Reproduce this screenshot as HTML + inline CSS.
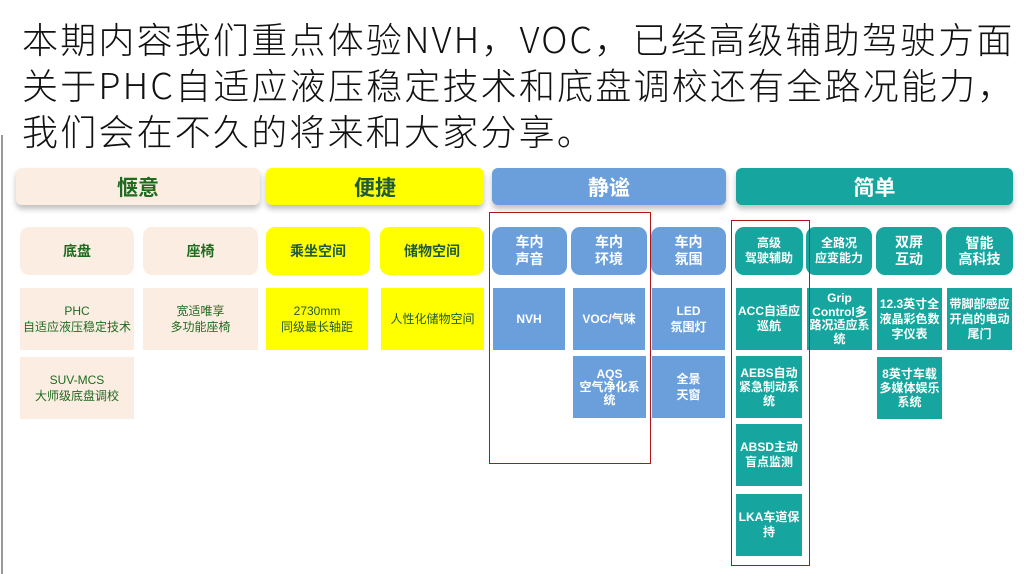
<!DOCTYPE html>
<html><head><meta charset="utf-8"><style>
body{margin:0;width:1024px;height:574px;background:#fff;position:relative;overflow:hidden;font-family:"Liberation Sans","Noto Sans CJK SC",sans-serif}
.t{position:absolute;left:22px;font-family:"Noto Sans CJK SC",sans-serif;font-size:36px;font-weight:300;color:#111;white-space:nowrap;line-height:46px;letter-spacing:2.2px}
.b{position:absolute;display:flex;align-items:center;justify-content:center;text-align:center;box-sizing:border-box}
.h{font-size:21px;font-weight:bold;border-radius:6px;box-shadow:0 4px 6px rgba(0,0,0,.25)}
.c{font-size:14px;font-weight:bold;border-radius:9px;line-height:17px}
.d{font-size:12px;line-height:16px;font-weight:bold}
.pe{background:#fcede3;color:#1f6b1f}
.ye{background:#ffff00;color:#1f5a3a}
.bl{background:#6a9fdc;color:#fff}
.te{background:#17a59f;color:#fff}
.r{position:absolute;border:1.5px solid #b0151a}
</style></head><body>
<div style="position:absolute;left:1px;top:135px;width:2px;height:439px;background:#999"></div>
<div class="t" style="top:15px">本期内容我们重点体验NVH，VOC，已经高级辅助驾驶方面</div>
<div class="t" style="top:61px">关于PHC自适应液压稳定技术和底盘调校还有全路况能力，</div>
<div class="t" style="top:107px">我们会在不久的将来和大家分享。</div>

<div class="b h pe" style="left:16px;top:168px;width:244px;height:37px">惬意</div>
<div class="b h ye" style="left:266px;top:168px;width:218px;height:37px">便捷</div>
<div class="b h bl" style="left:492px;top:168px;width:234px;height:37px">静谧</div>
<div class="b h te" style="left:736px;top:168px;width:277px;height:37px">简单</div>

<div class="b c pe" style="left:20px;top:227px;width:114px;height:48px">底盘</div>
<div class="b c pe" style="left:143px;top:227px;width:115px;height:48px">座椅</div>
<div class="b c ye" style="left:266px;top:227px;width:104px;height:48px">乘坐空间</div>
<div class="b c ye" style="left:380px;top:227px;width:104px;height:48px">储物空间</div>
<div class="b c bl" style="left:492px;top:227px;width:75px;height:48px">车内<br>声音</div>
<div class="b c bl" style="left:571px;top:227px;width:76px;height:48px">车内<br>环境</div>
<div class="b c bl" style="left:651px;top:227px;width:75px;height:48px">车内<br>氛围</div>
<div class="b c te" style="left:735px;top:227px;width:68px;height:48px;font-size:12px;line-height:15px">高级<br>驾驶辅助</div>
<div class="b c te" style="left:806px;top:227px;width:66px;height:48px;font-size:12px;line-height:15px">全路况<br>应变能力</div>
<div class="b c te" style="left:876px;top:227px;width:66px;height:48px">双屏<br>互动</div>
<div class="b c te" style="left:946px;top:227px;width:67px;height:48px;line-height:16px">智能<br>高科技</div>

<div class="b d pe" style="left:20px;top:288px;width:114px;height:62px;font-weight:normal">PHC<br>自适应液压稳定技术</div>
<div class="b d pe" style="left:143px;top:288px;width:115px;height:62px;font-weight:normal">宽适唯享<br>多功能座椅</div>
<div class="b d ye" style="left:266px;top:288px;width:102px;height:62px;font-weight:normal">2730mm<br>同级最长轴距</div>
<div class="b d ye" style="left:381px;top:288px;width:103px;height:62px;font-weight:normal">人性化储物空间</div>
<div class="b d pe" style="left:20px;top:357px;width:114px;height:62px;font-weight:normal">SUV-MCS<br>大师级底盘调校</div>

<div class="b d bl" style="left:493px;top:288px;width:72px;height:62px">NVH</div>
<div class="b d bl" style="left:573px;top:288px;width:72px;height:62px">VOC/气味</div>
<div class="b d bl" style="left:652px;top:288px;width:73px;height:62px">LED<br>氛围灯</div>
<div class="b d bl" style="left:573px;top:356px;width:73px;height:62px;line-height:13px">AQS<br>空气净化系<br>统</div>
<div class="b d bl" style="left:652px;top:356px;width:73px;height:62px">全景<br>天窗</div>

<div class="b d te" style="left:736px;top:288px;width:66px;height:62px;line-height:15px">ACC自适应<br>巡航</div>
<div class="b d te" style="left:807px;top:288px;width:65px;height:62px;line-height:13.5px">Grip<br>Control多<br>路况适应系<br>统</div>
<div class="b d te" style="left:877px;top:288px;width:65px;height:62px;line-height:15px">12.3英寸全<br>液晶彩色数<br>字仪表</div>
<div class="b d te" style="left:947px;top:288px;width:65px;height:62px;line-height:15px">带脚部感应<br>开启的电动<br>尾门</div>
<div class="b d te" style="left:736px;top:356px;width:66px;height:62px;line-height:14px">AEBS自动<br>紧急制动系<br>统</div>
<div class="b d te" style="left:877px;top:357px;width:65px;height:62px;line-height:14px">8英寸车载<br>多媒体娱乐<br>系统</div>
<div class="b d te" style="left:736px;top:424px;width:66px;height:62px;line-height:15px">ABSD主动<br>盲点监测</div>
<div class="b d te" style="left:736px;top:494px;width:66px;height:62px;line-height:15px">LKA车道保<br>持</div>

<div class="r" style="left:489px;top:212px;width:160px;height:250px"></div>
<div class="r" style="left:731px;top:220px;width:77px;height:344px"></div>
</body></html>
